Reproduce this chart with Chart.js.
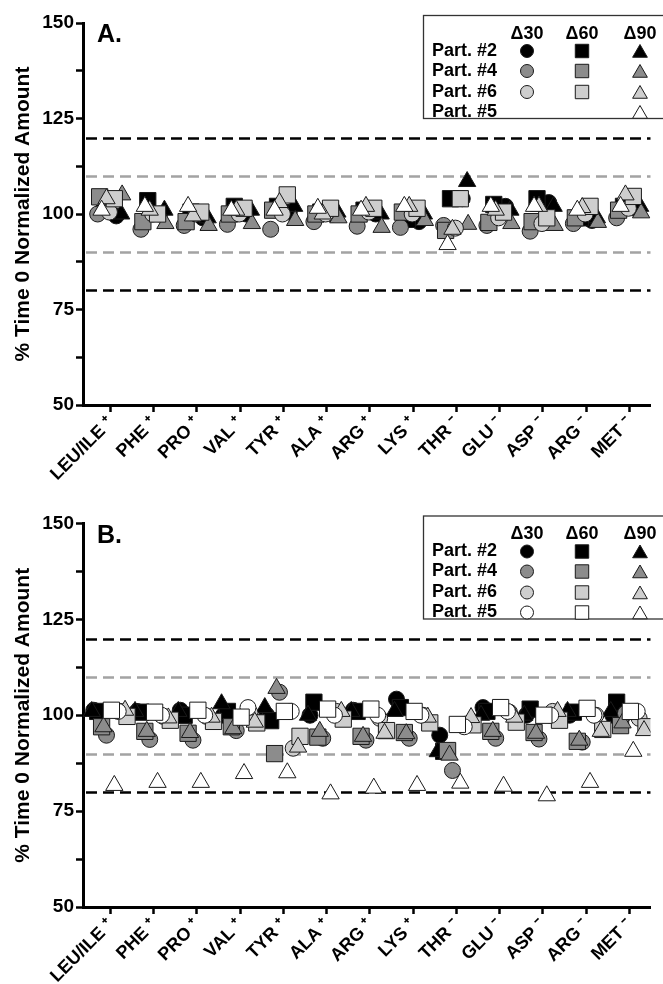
<!DOCTYPE html>
<html><head><meta charset="utf-8">
<script src="https://cdn.jsdelivr.net/npm/chart.js@4.4.1/dist/chart.umd.min.js"></script>
<style>
html,body{margin:0;padding:0;background:#fff;}
#wrap{position:relative;width:663px;height:984px;overflow:hidden;background:#fff;}
canvas{display:block;position:absolute;left:0;}
</style></head><body>
<div id="wrap">
<canvas id="cA" width="663" height="501" style="top:0px"></canvas>
<canvas id="cB" width="663" height="483" style="top:501px"></canvas>
</div>
<script>
// ---------- DATA ----------
const categories = ['LEU/ILE \u207A','PHE \u207A','PRO \u207A','VAL \u207A','TYR \u207A','ALA \u207A','ARG \u207A','LYS \u207A','THR \u207B','GLU \u207B','ASP \u207B','ARG \u207B','MET \u207B'];
const yTickValues = [50, 75, 100, 125, 150];
const refLinesBlack = [120, 80];
const refLinesGray = [110, 90];
const timeLabels = ['\u039430', '\u039460', '\u039490'];
const partLabels = ['Part. #2', 'Part. #4', 'Part. #6', 'Part. #5'];

// Panel A
const A_P2_D30 = [99.5, 100, 99, 100, 100.5, 100, 100, 98, 104, 102, 103, 98.3, 101.5];
const A_P2_D60 = [101, 103.5, 100.5, 102, 102, 100.5, 101, 98.6, 104, 102.5, 104, 99, 102];
const A_P2_D90 = [100, 101, 99, 101, 102, 100.5, 100, 100, 108.5, 101, 102, 99, 102];
const A_P4_D30 = [100, 96, 97, 97.3, 96, 98, 96.8, 96.5, 97, 97, 95.5, 97.5, 99];
const A_P4_D60 = [104.5, 98, 98, 100, 101, 100, 100, 100.5, 95.7, 97.8, 98, 99, 101];
const A_P4_D90 = [105, 97.5, 97, 97.5, 98.3, 99, 96.5, 98.3, 97.3, 97.5, 97, 97.8, 100.3];
const A_P6_D30 = [100.5, 100, 100, 100, 100, 100, 100.5, 100, 96.3, 99, 97.5, 100, 101.5];
const A_P6_D60 = [104, 100, 100.5, 101.5, 105, 101.5, 101.5, 101.5, 104, 100.5, 99, 102, 104.6];
const A_P6_D90 = [104, 101, 99.5, 101, 103, 100, 102, 102, 96, 101, 102, 101.7, 105];
const A_P5_D90 = [101, 102, 102, 101, 101, 101.5, 101, 102, 92, 102, 102, 101, 102];

// Panel B
const B_P2_D30 = [101.3, 101, 101.3, 100, 100, 100, 101.3, 104.2, 94.8, 102, 100, 100, 100];
const B_P2_D60 = [101, 100.8, 100, 101, 98.6, 103.4, 101, 102, 90.6, 101, 101.6, 100.8, 103.4];
const B_P2_D90 = [101, 101, 101, 103, 102, 100, 101, 101, 90.5, 100, 100, 101, 101];
const B_P4_D30 = [94.8, 93.7, 93.5, 96, 106, 94, 93.5, 94, 85.6, 94, 93.8, 93, 100.5];
const B_P4_D60 = [97, 95.8, 95.3, 97, 90, 94.3, 94.5, 95.5, 90.8, 95.8, 95.5, 93.2, 97.3];
const B_P4_D90 = [97, 95.8, 95.5, 96.5, 107, 95.8, 94.5, 95.2, 89.6, 95.8, 95.3, 93.5, 98];
const B_P6_D30 = [101, 99.7, 99.7, 100.7, 91.4, 101, 99.2, 100, 97.7, 100.8, 101, 100, 99.2];
const B_P6_D60 = [99.7, 98.7, 98.4, 98, 94.5, 99, 96, 98, 97.5, 98.2, 98.7, 96.3, 97];
const B_P6_D90 = [101.3, 99.3, 99.5, 98.2, 91.7, 101, 95.3, 99.5, 99.4, 99.5, 101, 95.8, 96];
const B_P5_D30 = [101, 100, 100, 102, 101, 100, 100, 100, 97, 101, 100, 100, 101];
const B_P5_D60 = [101.3, 100.8, 101.3, 99.5, 101, 101.6, 101.6, 101, 97.6, 102, 100, 101.8, 101];
const B_P5_D90 = [81.7, 82.5, 82.5, 84.8, 85, 79.5, 81, 81.7, 82.3, 81.5, 79, 82.5, 90.6];

// ---------- STYLE / LAYOUT ----------
const FONT = '"Liberation Sans", Arial, Helvetica, sans-serif';
const partFill = {P2:'#000000', P4:'#8c8c8c', P6:'#cecece', P5:'#ffffff'};
const timeStyle = ['circle', 'rect', 'triangle'];
const styleRadius = {circle: 8, rect: 11.5, triangle: 10};
const legendRadius = {circle: 6.5, rect: 9.5, triangle: 8.5};
const CLUSTER_PX = 44.2;
// within-cluster horizontal offsets in px, per participant and timepoint
const offA = {P2:[6, -6, 11], P4:[-13, -11, 12], P6:[-1, 4, -4], P5:[0, 0, -9]};
const offB = {P2:[-17, -13, -19], P4:[-4, -9, -7], P5:[8, 1, 4], P6:[10, 17, 15]};
const drawOrder = {P5: 0, P6: 1, P4: 2, P2: 3};

function buildDatasets(series, offs) {
  return series.map(s => {
    const ps = timeStyle[s.t];
    return {
      label: s.p + ' ' + timeLabels[s.t],
      data: s.data.map((v, i) => ({x: i + offs[s.p][s.t] / CLUSTER_PX, y: v})),
      pointStyle: ps, pointRadius: styleRadius[ps], pointHoverRadius: styleRadius[ps],
      backgroundColor: partFill[s.p], borderColor: '#1a1a1a', pointBorderWidth: 1,
      showLine: false, order: drawOrder[s.p] * 3 + (2 - s.t)
    };
  });
}

const seriesA = [
  {p:'P2', t:0, data:A_P2_D30}, {p:'P2', t:1, data:A_P2_D60}, {p:'P2', t:2, data:A_P2_D90},
  {p:'P4', t:0, data:A_P4_D30}, {p:'P4', t:1, data:A_P4_D60}, {p:'P4', t:2, data:A_P4_D90},
  {p:'P6', t:0, data:A_P6_D30}, {p:'P6', t:1, data:A_P6_D60}, {p:'P6', t:2, data:A_P6_D90},
  {p:'P5', t:2, data:A_P5_D90}
];
const seriesB = [
  {p:'P2', t:0, data:B_P2_D30}, {p:'P2', t:1, data:B_P2_D60}, {p:'P2', t:2, data:B_P2_D90},
  {p:'P4', t:0, data:B_P4_D30}, {p:'P4', t:1, data:B_P4_D60}, {p:'P4', t:2, data:B_P4_D90},
  {p:'P6', t:0, data:B_P6_D30}, {p:'P6', t:1, data:B_P6_D60}, {p:'P6', t:2, data:B_P6_D90},
  {p:'P5', t:0, data:B_P5_D30}, {p:'P5', t:1, data:B_P5_D60}, {p:'P5', t:2, data:B_P5_D90}
];

const refPlugin = {
  id: 'refLines',
  beforeDatasetsDraw(chart) {
    const {ctx, chartArea, scales} = chart;
    ctx.save();
    ctx.lineWidth = 2.6;
    ctx.setLineDash([11, 6]);
    const draw = (vals, color) => {
      ctx.strokeStyle = color;
      vals.forEach(v => {
        const y = Math.round(scales.y.getPixelForValue(v)) + 0.5;
        ctx.beginPath(); ctx.moveTo(chartArea.left + 3, y); ctx.lineTo(chartArea.right, y); ctx.stroke();
      });
    };
    draw(refLinesGray, '#a3a3a3');
    draw(refLinesBlack, '#000');
    ctx.restore();
  }
};

function overlayPlugin(letter, legendRows) {
  return {
    id: 'overlay',
    afterDraw(chart) {
      const ctx = chart.ctx;
      const top = chart.chartArea.top;
      ctx.save();
      ctx.fillStyle = '#000';
      ctx.font = 'bold 25px ' + FONT;
      ctx.textAlign = 'left'; ctx.textBaseline = 'alphabetic';
      ctx.fillText(letter, 97, top + 19);
      const bx = 423, by = top - 8, bw = 260, bh = 103;
      ctx.fillStyle = '#fff';
      ctx.fillRect(bx, by, bw, bh);
      ctx.strokeStyle = '#333'; ctx.lineWidth = 1.3;
      ctx.strokeRect(bx + 0.5, by + 0.5, bw, bh);
      const colX = [527, 582, 640];
      ctx.fillStyle = '#000';
      ctx.font = 'bold 18px ' + FONT;
      ctx.textAlign = 'center'; ctx.textBaseline = 'middle';
      timeLabels.forEach((t, i) => ctx.fillText(t, colX[i], by + 19));
      const rowY = [by + 36, by + 56, by + 77, by + 97];
      legendRows.forEach((row, r) => {
        ctx.fillStyle = '#000';
        ctx.textAlign = 'left';
        ctx.font = 'bold 18px ' + FONT;
        ctx.fillText(partLabels[r], 432, rowY[r]);
        row.times.forEach(t => {
          const ps = timeStyle[t];
          ctx.fillStyle = partFill[row.p];
          ctx.strokeStyle = '#1a1a1a';
          ctx.lineWidth = 1;
          const yy = ps === 'triangle' ? rowY[r] + 2 : rowY[r];
          Chart.helpers.drawPoint(ctx, {pointStyle: ps, radius: legendRadius[ps], borderWidth: 1, rotation: 0}, colX[t], yy);
        });
      });
      ctx.restore();
    }
  };
}

function makeChart(id, series, offs, cfg) {
  const c0 = 111, left = 83, right = 663;
  return new Chart(document.getElementById(id), {
    type: 'scatter',
    data: {datasets: buildDatasets(series, offs)},
    options: {
      responsive: false, animation: false,
      layout: {padding: {top: cfg.top, right: 0, left: 0, bottom: 0}},
      plugins: {legend: {display: false}, tooltip: {enabled: false}},
      scales: {
        x: {type: 'linear', position: 'bottom',
            min: -(c0 - left) / CLUSTER_PX, max: (right - c0) / CLUSTER_PX,
            afterBuildTicks: s => { s.ticks = categories.map((c, i) => ({value: i})); },
            afterFit: s => { s.height = cfg.xh; },
            ticks: {autoSkip: false, minRotation: 45, maxRotation: 45, padding: 1, color: '#000',
                    font: {family: FONT, size: 18, weight: 'bold'},
                    callback: v => categories[v]},
            grid: {drawOnChartArea: false, drawTicks: true, tickLength: 7, tickWidth: 2.5, tickColor: '#000'},
            border: {display: true, color: '#000', width: 3}},
        y: {type: 'linear', position: 'left', min: 50, max: 150,
            afterBuildTicks: s => { const t = []; for (let v = 50; v <= 150; v += 12.5) t.push({value: v}); s.ticks = t; },
            afterFit: s => { s.width = 83; },
            ticks: {color: '#000', padding: 2, font: {family: FONT, size: 19, weight: 'bold'},
                    callback: v => yTickValues.includes(v) ? String(v) : ''},
            grid: {drawOnChartArea: false, drawTicks: true, tickLength: 7, tickWidth: 2.5, tickColor: '#000'},
            border: {display: true, color: '#000', width: 3},
            title: {display: true, text: '% Time 0 Normalized Amount', color: '#000',
                    font: {family: FONT, size: 21, weight: 'bold'}, padding: {top: 11, bottom: 0}}}
      }
    },
    plugins: [refPlugin, overlayPlugin(cfg.letter, cfg.legendRows)]
  });
}

makeChart('cA', seriesA, offA, {top: 23, xh: 96, letter: 'A.',
  legendRows: [{p:'P2', times:[0,1,2]}, {p:'P4', times:[0,1,2]}, {p:'P6', times:[0,1,2]}, {p:'P5', times:[2]}]});
makeChart('cB', seriesB, offB, {top: 22.5, xh: 77, letter: 'B.',
  legendRows: [{p:'P2', times:[0,1,2]}, {p:'P4', times:[0,1,2]}, {p:'P6', times:[0,1,2]}, {p:'P5', times:[0,1,2]}]});
</script>
</body></html>
